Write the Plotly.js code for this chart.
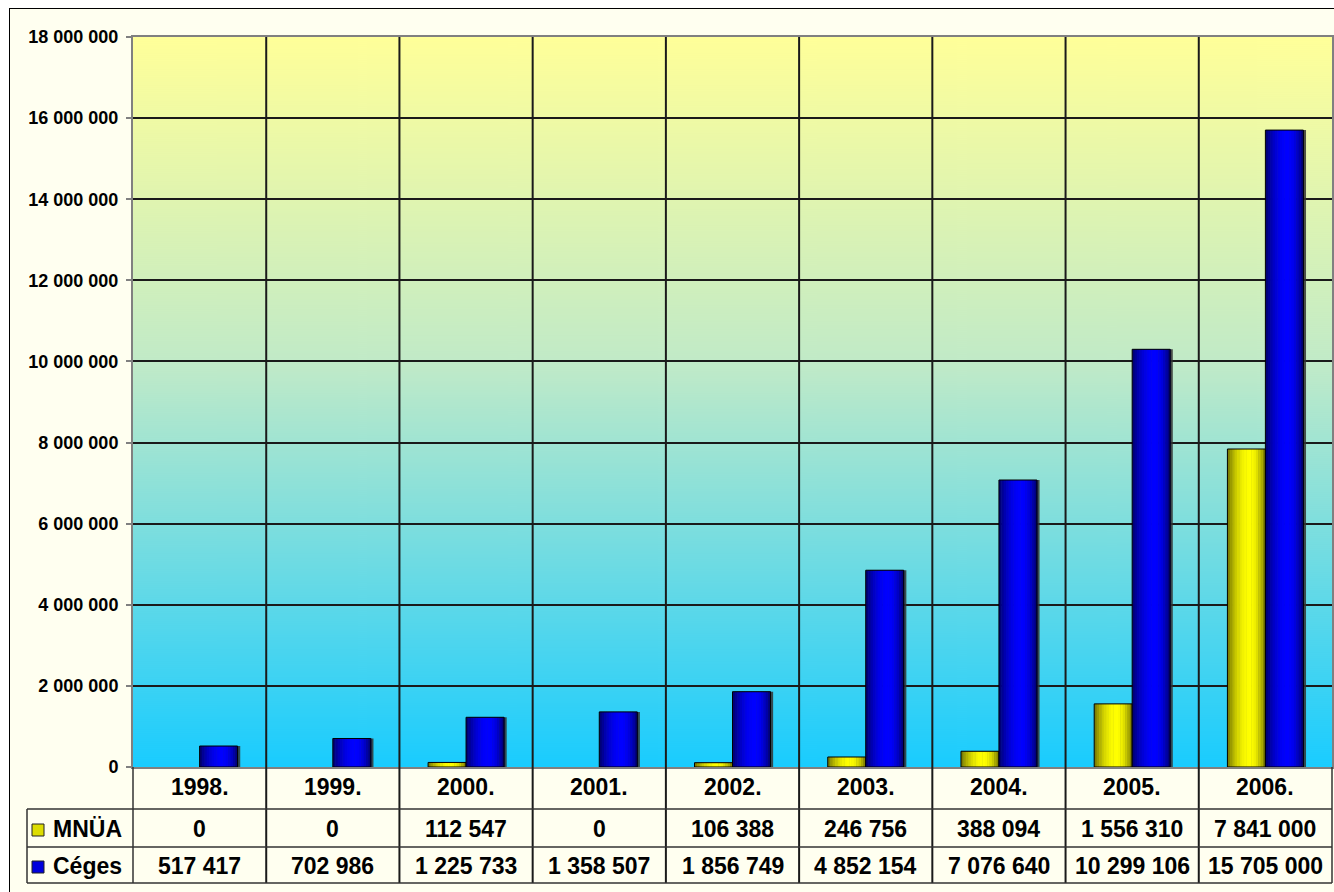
<!DOCTYPE html>
<html>
<head>
<meta charset="utf-8">
<script src="https://cdn.plot.ly/plotly-3.0.1.min.js"></script>
<style>html,body{margin:0;padding:0;background:#fff;}#chart{width:1334px;height:892px;}</style>
</head>
<body>
<div id="chart"></div>
<script>
// ---- data ----
const years = ['1998.', '1999.', '2000.', '2001.', '2002.', '2003.', '2004.', '2005.', '2006.'];
const mnua  = [0, 0, 112547, 0, 106388, 246756, 388094, 1556310, 7841000];
const ceges = [517417, 702986, 1225733, 1358507, 1856749, 4852154, 7076640, 10299106, 15705000];
const seriesNames = ['MNÜA', 'Céges'];
const yMax = 18000000;
const yStep = 2000000;

// ---- geometry helpers (pixel -> paper) ----
const L = 133, R = 2, T = 37, B = 125, W = 1334, H = 892;
const PW = W - L - R, PH = H - T - B;
const px = p => (p - L) / PW;
const py = y => (H - B - y) / PH;

const FONT = 'Liberation Sans, Arial, sans-serif';
const fmt = v => String(v).replace(/\B(?=(\d{3})+(?!\d))/g, ' ');

// ---- bars (cylinder shading via stripes) ----
const BW = 0.285;
const series = [
  {name: seriesNames[0], vals: mnua, base: -BW, dark: [70, 70, 0], bright: [255, 255, 0]},
  {name: seriesNames[1], vals: ceges, base: 0, dark: [0, 0, 60], bright: [0, 0, 255]}
];
const N = 16;
const prof = t => {
  const p = 0.58;
  const d = t < p ? (p - t) / (p + 0.08) : (t - p) / (1 - p + 0.06);
  return Math.max(0, 1 - d * d);
};
const traces = [];
series.forEach(s => {
  traces.push({type: 'bar', x: years, y: s.vals, offset: s.base + 0.02, width: BW,
    marker: {color: 'rgba(50,50,50,0.85)', line: {width: 0}}, hoverinfo: 'skip', showlegend: false});
});
series.forEach(s => {
  for (let k = 0; k < N; k++) {
    const t = (k + 0.5) / N, f = prof(t);
    const c = s.dark.map((d, i) => Math.round(d + (s.bright[i] - d) * f));
    traces.push({type: 'bar', x: years, y: s.vals, offset: s.base + k * BW / N, width: BW / N * 1.2,
      marker: {color: `rgb(${c[0]},${c[1]},${c[2]})`, line: {width: 0}}, hoverinfo: 'skip', showlegend: false});
  }
  traces.push({type: 'bar', x: years, y: s.vals.map(v => v === 0 ? null : v), offset: s.base, width: BW,
    marker: {color: 'rgba(0,0,0,0)', line: {width: 1, color: '#000'}}, hoverinfo: 'skip', showlegend: false});
});

// ---- background gradient image ----
const cv = document.createElement('canvas');
cv.width = 8; cv.height = 730;
const ctx = cv.getContext('2d');
const g = ctx.createLinearGradient(0, 0, 0, 730);
g.addColorStop(0, 'rgb(255,255,153)');
g.addColorStop(0.45, 'rgb(192,234,200)');
g.addColorStop(1, 'rgb(25,204,255)');
ctx.fillStyle = g; ctx.fillRect(0, 0, 8, 730);
const gradURL = cv.toDataURL('image/png');

// ---- table / frame shapes & annotations ----
const shapes = [];
const annotations = [];
const lineC = '#333';
// white margin outside the outer border (left / top)
shapes.push({type: 'rect', xref: 'paper', yref: 'paper', x0: px(-5), x1: px(9), y0: py(900), y1: py(-5),
  fillcolor: '#FFFFFF', line: {width: 0}, layer: 'below'});
shapes.push({type: 'rect', xref: 'paper', yref: 'paper', x0: px(-5), x1: px(1340), y0: py(8), y1: py(-5),
  fillcolor: '#FFFFFF', line: {width: 0}, layer: 'below'});
shapes.push({type: 'line', xref: 'paper', yref: 'paper', x0: px(9.5), x1: px(9.5), y0: py(8), y1: py(900), line: {color: '#000', width: 1}});
shapes.push({type: 'line', xref: 'paper', yref: 'paper', x0: px(9), x1: px(1340), y0: py(8.5), y1: py(8.5), line: {color: '#000', width: 1}});
// category boundaries (through plot and table)
for (let i = 0; i < years.length - 1; i++) {
  shapes.push({type: 'line', xref: 'x', yref: 'paper', x0: i + 0.5, x1: i + 0.5, y0: py(883), y1: 1,
    line: {color: '#1a1a1a', width: 2}, layer: 'above'});
}
// table verticals: left of plot, right edge, legend column left
shapes.push({type: 'line', xref: 'paper', yref: 'paper', x0: 0, x1: 0, y0: py(883), y1: 0, line: {color: lineC, width: 1.5}});
shapes.push({type: 'line', xref: 'paper', yref: 'paper', x0: 1, x1: 1, y0: py(883), y1: 0, line: {color: lineC, width: 1.5}});
shapes.push({type: 'line', xref: 'paper', yref: 'paper', x0: px(27), x1: px(27), y0: py(883), y1: py(809), line: {color: lineC, width: 1.5}});
// table horizontals
[809, 847, 883].forEach(y => {
  shapes.push({type: 'line', xref: 'paper', yref: 'paper', x0: px(27), x1: 1, y0: py(y), y1: py(y), line: {color: lineC, width: 1.5}});
});
// year labels
const tf = {family: FONT, size: 23, color: '#000', weight: 'bold'};
years.forEach((yr, i) => {
  annotations.push({xref: 'x', yref: 'paper', x: i, y: py(787), text: yr, showarrow: false, font: tf, xanchor: 'center', yanchor: 'middle'});
});
// rows
const rowsY = [829, 866];
const rowVals = [mnua, ceges];
const keyFill = ['#DDDD00', '#0000DD'];
rowVals.forEach((vals, r) => {
  vals.forEach((v, i) => {
    annotations.push({xref: 'x', yref: 'paper', x: i, y: py(rowsY[r]), text: fmt(v), showarrow: false, font: tf, xanchor: 'center', yanchor: 'middle'});
  });
  annotations.push({xref: 'paper', yref: 'paper', x: px(51), y: py(rowsY[r]), text: seriesNames[r], showarrow: false, font: tf, xanchor: 'left', yanchor: 'middle'});
  shapes.push({type: 'rect', xref: 'paper', yref: 'paper', x0: px(32), x1: px(44), y0: py(rowsY[r] + 7), y1: py(rowsY[r] - 5),
    fillcolor: keyFill[r], line: {color: '#222', width: 1}});
});

const layout = {
  width: W, height: H,
  margin: {l: L, r: R, t: T, b: B, pad: 0},
  paper_bgcolor: '#FFFFF0',
  plot_bgcolor: 'rgba(0,0,0,0)',
  separators: '. ',
  barmode: 'overlay',
  showlegend: false,
  font: {family: FONT, color: '#000'},
  xaxis: {type: 'category', range: [-0.5, years.length - 0.5], showticklabels: false, ticks: '',
    showgrid: false, zeroline: false, showline: true, mirror: true, linecolor: '#808080', linewidth: 2, fixedrange: true},
  yaxis: {range: [0, yMax], dtick: yStep, tick0: 0, tickformat: ',d', showgrid: true, gridcolor: '#1a1a1a', gridwidth: 2,
    zeroline: false, showline: true, mirror: true, linecolor: '#808080', linewidth: 2,
    ticks: 'outside', ticklen: 5, tickwidth: 2, tickcolor: '#808080', ticklabelstandoff: 4,
    tickfont: {family: FONT, size: 18, color: '#000', weight: 'bold'}, fixedrange: true},
  images: [{source: gradURL, xref: 'paper', yref: 'paper', x: 0, y: 1, sizex: 1, sizey: 1,
    sizing: 'stretch', xanchor: 'left', yanchor: 'top', layer: 'below'}],
  shapes: shapes,
  annotations: annotations
};

Plotly.newPlot('chart', traces, layout, {displayModeBar: false, staticPlot: true});
</script>
</body>
</html>
